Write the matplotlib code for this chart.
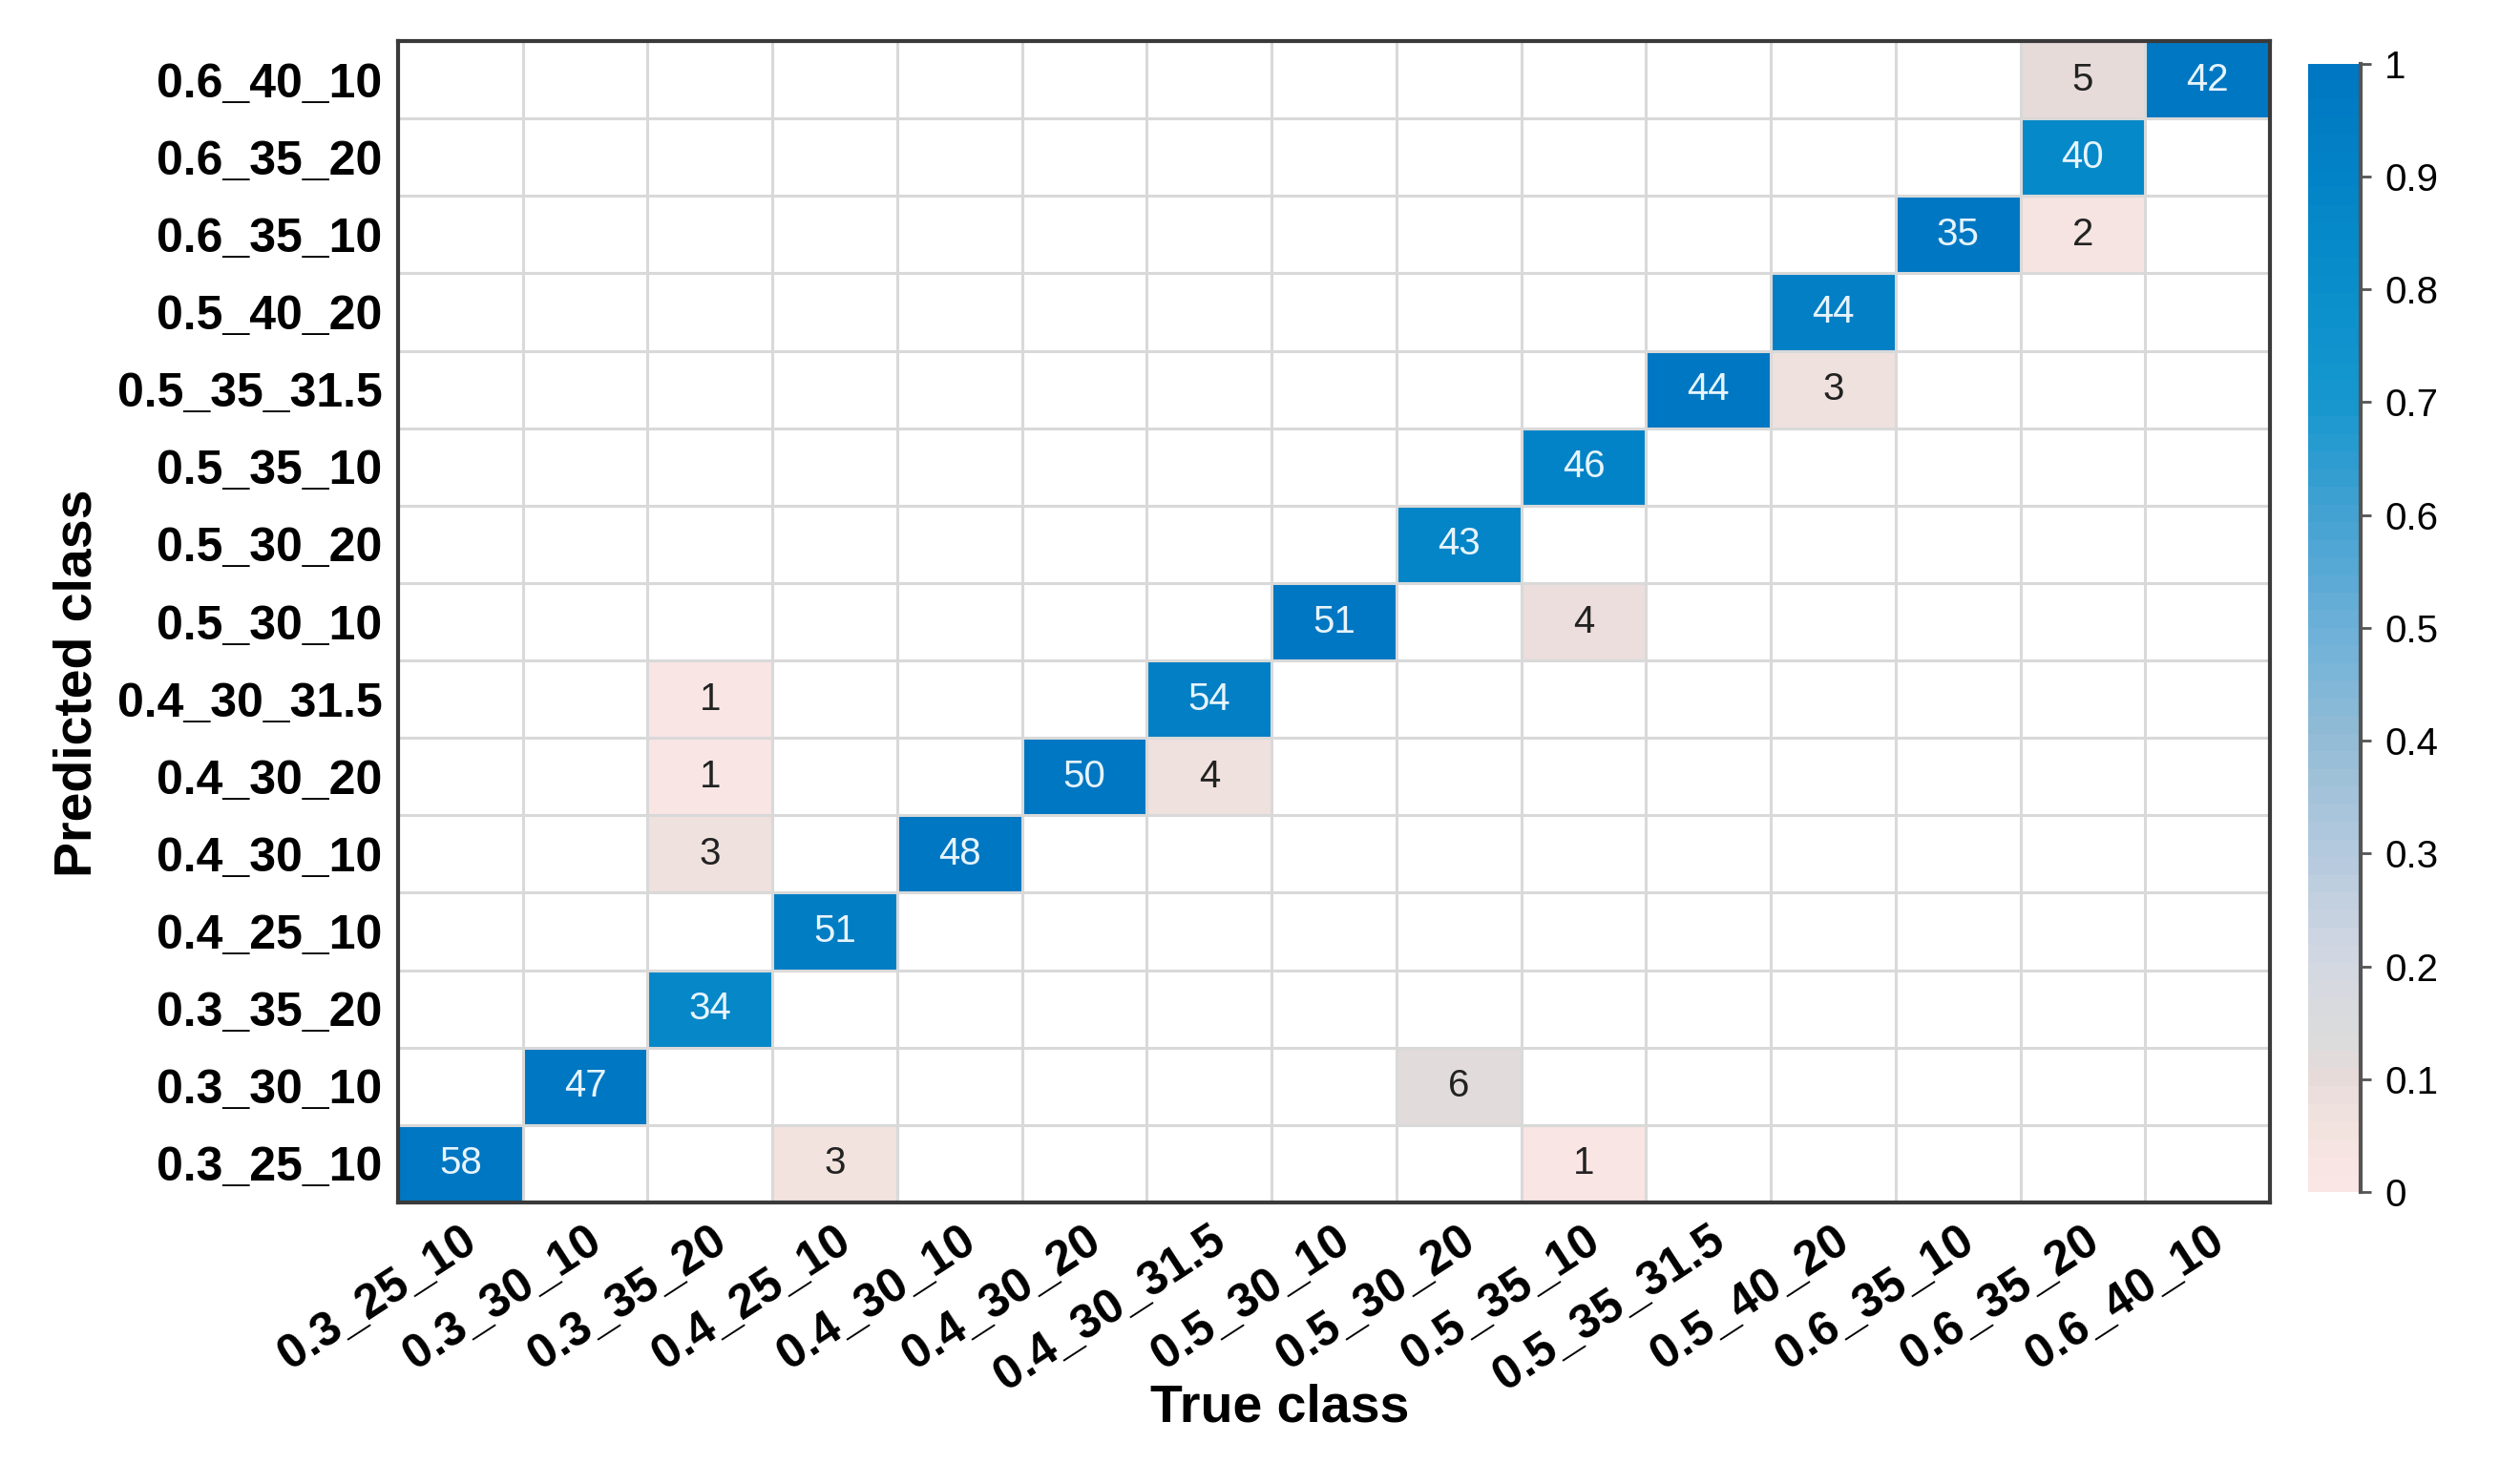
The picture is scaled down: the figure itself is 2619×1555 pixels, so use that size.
import numpy as np
import matplotlib
matplotlib.use('Agg')
import matplotlib.pyplot as plt
from matplotlib.colors import LinearSegmentedColormap

# class names (same order on both axes)
classes = ['0.3_25_10', '0.3_30_10', '0.3_35_20', '0.4_25_10', '0.4_30_10',
           '0.4_30_20', '0.4_30_31.5', '0.5_30_10', '0.5_30_20', '0.5_35_10',
           '0.5_35_31.5', '0.5_40_20', '0.6_35_10', '0.6_35_20', '0.6_40_10']

# nonzero entries of the confusion matrix
pred_class = ['0.3_25_10', '0.3_25_10', '0.3_25_10', '0.3_30_10', '0.3_30_10',
              '0.3_35_20', '0.4_25_10', '0.4_30_10', '0.4_30_10', '0.4_30_20',
              '0.4_30_20', '0.4_30_20', '0.4_30_31.5', '0.4_30_31.5', '0.5_30_10',
              '0.5_30_10', '0.5_30_20', '0.5_35_10', '0.5_35_31.5', '0.5_35_31.5',
              '0.5_40_20', '0.6_35_10', '0.6_35_10', '0.6_35_20', '0.6_40_10',
              '0.6_40_10']
true_class = ['0.3_25_10', '0.4_25_10', '0.5_35_10', '0.3_30_10', '0.5_30_20',
              '0.3_35_20', '0.4_25_10', '0.3_35_20', '0.4_30_10', '0.3_35_20',
              '0.4_30_20', '0.4_30_31.5', '0.3_35_20', '0.4_30_31.5', '0.5_30_10',
              '0.5_35_10', '0.5_30_20', '0.5_35_10', '0.5_35_31.5', '0.5_40_20',
              '0.5_40_20', '0.6_35_10', '0.6_35_20', '0.6_35_20', '0.6_35_20',
              '0.6_40_10']
counts = [58, 3, 1, 47, 6,
          34, 51, 3, 48, 1,
          50, 4, 1, 54, 51,
          4, 43, 46, 44, 3,
          44, 35, 2, 40, 5,
          42]

n = len(classes)
cm = np.zeros((n, n))
for p, t, c in zip(pred_class, true_class, counts):
    cm[classes.index(p), classes.index(t)] = c

# normalise by column (true class)
norm = cm / cm.sum(axis=0, keepdims=True)
masked = np.ma.masked_where(cm == 0, norm)

cmap = LinearSegmentedColormap.from_list('pinkblue', [
    (0.0, '#fbe6e6'), (0.05, '#f2e3df'), (0.1, '#e6dada'), (0.13, '#dcdcdc'),
    (0.2, '#d3d8e2'), (0.3, '#b4c9dd'),
    (0.4, '#93bcd6'), (0.5, '#6cb0d8'), (0.6, '#45a2d2'), (0.7, '#1797cf'),
    (0.8, '#0a8fcb'), (0.9, '#0384c7'), (1.0, '#0077c2')], N=64)

plt.rcParams['font.family'] = ['Liberation Sans', 'DejaVu Sans']

fig = plt.figure(figsize=(26.19, 15.55), dpi=100)
ax = fig.add_axes([0.1592, 0.1897, 0.7488, 0.7826])

mesh = ax.pcolormesh(np.arange(n + 1), np.arange(n + 1), masked, cmap=cmap,
                     vmin=0, vmax=1)
ax.set_facecolor('white')
ax.set_xlim(0, n)
ax.set_ylim(0, n)

for k in range(1, n):
    ax.axhline(k, color='#d9d9d9', lw=2.2, zorder=3)
    ax.axvline(k, color='#d9d9d9', lw=2.2, zorder=3)

for i in range(n):
    for j in range(n):
        if cm[i, j] > 0:
            col = '#e6f4fc' if norm[i, j] > 0.5 else '#222222'
            ax.text(j + 0.5, i + 0.5, '%d' % cm[i, j], ha='center', va='center',
                    fontsize=29, color=col, zorder=4)

ax.set_xticks(np.arange(n) + 0.5)
ax.set_yticks(np.arange(n) + 0.5)
ax.set_xticklabels(classes, rotation=33, ha='right', va='top',
                   rotation_mode='anchor', fontsize=36, fontweight='bold')
ax.set_yticklabels(classes, fontsize=36, fontweight='bold')
ax.tick_params(length=0, pad=12)
for s in ax.spines.values():
    s.set_color('#3a3a3a')
    s.set_linewidth(3)
    s.set_zorder(5)

fig.text(0.512, 0.051, 'True class', ha='center', va='center',
         fontsize=40, fontweight='bold')
fig.text(0.031, 0.54, 'Predicted class', ha='center', va='center',
         rotation=90, fontsize=40, fontweight='bold')

cax = fig.add_axes([0.9233, 0.1968, 0.021, 0.7602])
cbar = fig.colorbar(mesh, cax=cax)
cbar.outline.set_linewidth(0)
cax.plot([1, 1], [0, 1], transform=cax.transAxes, color='#555555', lw=3,
         clip_on=False)
ticks = np.round(np.arange(0, 1.01, 0.1), 1)
cbar.set_ticks(ticks)
cbar.set_ticklabels(['%g' % t for t in ticks])
cax.tick_params(labelsize=29, length=8, width=2, color='#555555', pad=10)

plt.savefig('out.png', dpi=100)
